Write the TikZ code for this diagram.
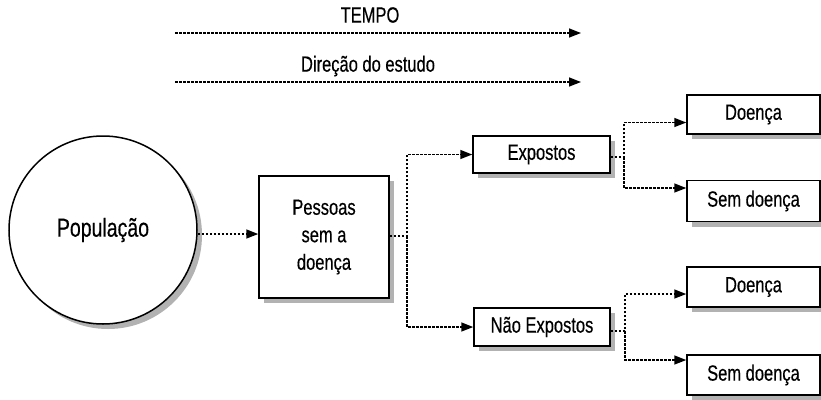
\documentclass[tikz,border=0pt]{standalone}
\usepackage{fontspec}
\setmainfont{Liberation Sans}[FakeStretch=0.75,FakeBold=0.4]
\usetikzlibrary{arrows.meta,shadows,calc}
\begin{document}
\begin{tikzpicture}[x=1pt,y=-1pt,
  every node/.style={font=\fontsize{22}{26}\selectfont, text=black},
  shad/.style={drop shadow={shadow xshift=5pt, shadow yshift=-5pt, fill=black!30, opacity=1}},
  boxn/.style={draw=black, line width=1.5pt, fill=white, shad, inner sep=0pt, align=center},
  conn/.style={line width=1.6pt, dash pattern=on 2.5pt off 1.5pt, -{Triangle[length=12pt,width=9pt]}, shorten >=0pt}
]
\useasboundingbox (0,0) rectangle (821,399);
% time arrows
\coordinate (t1s) at (175,33);
\coordinate (t1e) at (581,33);
\coordinate (t2s) at (175,82);
\coordinate (t2e) at (581,82);
\node (tempo) at (370,15) {TEMPO};
\node (dir) at (368,66) {Direção do estudo};
\draw[conn] (t1s) -- (t1e);
\draw[conn] (t2s) -- (t2e);
% nodes
\node[boxn, circle, minimum size=188pt, font=\fontsize{26}{30}\selectfont] (pop) at (103,230) {População};
\node[boxn, minimum width=130pt, minimum height=122pt, font=\fontsize{22}{27.5}\selectfont] (pes) at (324,237) {Pessoas\\sem a\\doença};
\node[boxn, minimum width=137pt, minimum height=37pt] (exp) at (541.5,154.5) {Expostos};
\node[boxn, minimum width=136pt, minimum height=38pt] (nexp) at (542,327) {Não Expostos};
\node[boxn, minimum width=133pt, minimum height=39pt] (d1) at (753.5,114.5) {Doença};
\node[boxn, minimum width=133pt, minimum height=41pt] (s1) at (753.5,201) {Sem doença};
\node[boxn, minimum width=133pt, minimum height=40pt] (d2) at (753.5,287) {Doença};
\node[boxn, minimum width=133pt, minimum height=40pt] (s2) at (753.5,375) {Sem doença};
% branch coordinates
\coordinate (b0) at (407,236);
\coordinate (b1) at (624,157);
\coordinate (b2) at (625,331);
% connectors
\draw[conn] ([yshift=-4pt]pop.east) -- ([yshift=-4pt]pop.east -| pes.west);
\draw[conn] (pes.east |- b0) -- (b0) |- (exp.west);
\draw[conn] (b0) |- (nexp.west);
\draw[conn] (exp.east |- b1) -- (b1) |- ([yshift=-8pt]d1.west);
\draw[conn] (b1) |- ([yshift=13pt]s1.west);
\draw[conn] (nexp.east |- b2) -- (b2) |- ([yshift=-7pt]d2.west);
\draw[conn] (b2) |- ([yshift=15pt]s2.west);
\end{tikzpicture}
\end{document}
